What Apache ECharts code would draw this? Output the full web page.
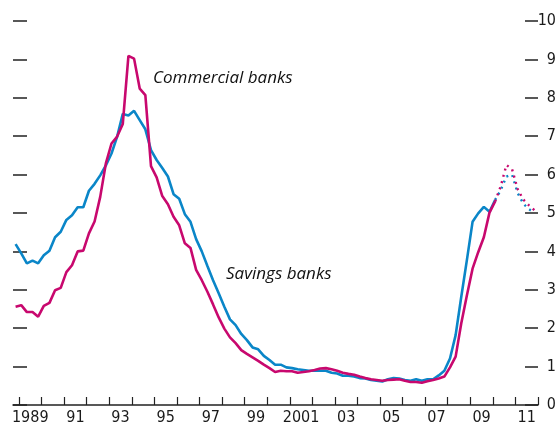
<!DOCTYPE html>
<html><head><meta charset="utf-8">
<script src="https://cdn.jsdelivr.net/npm/echarts@6/dist/echarts.min.js"></script>
<style>html,body{margin:0;padding:0;background:#fff}#c{width:559px;height:428px}</style>
</head><body><div id="c"></div>
<script>
// Quarterly data, first observation 1988 Q4
const firstYear = 1988, firstQuarter = 4;
const savingsBanks = [
  4.19, 3.95, 3.69, 3.76, 3.69, 3.90, 4.02, 4.37, 4.51, 4.82,
  4.94, 5.15, 5.15, 5.58, 5.76, 5.98, 6.24, 6.55, 6.99, 7.58,
  7.54, 7.66, 7.42, 7.18, 6.64, 6.38, 6.17, 5.95, 5.49, 5.37,
  4.97, 4.77, 4.32, 4.00, 3.62, 3.25, 2.91, 2.56, 2.23, 2.08,
  1.85, 1.69, 1.50, 1.45, 1.28, 1.17, 1.05, 1.05, 0.98, 0.96,
  0.93, 0.91, 0.89, 0.89, 0.89, 0.89, 0.84, 0.82, 0.76, 0.76,
  0.74, 0.70, 0.69, 0.65, 0.63, 0.61, 0.67, 0.70, 0.69, 0.65,
  0.63, 0.67, 0.63, 0.67, 0.67, 0.77, 0.89, 1.21, 1.82, 2.82,
  3.78, 4.77, 4.99, 5.16, 5.03, 5.34
];
const commercialBanks = [
  2.56, 2.60, 2.42, 2.42, 2.30, 2.58, 2.66, 2.99, 3.05, 3.46,
  3.64, 4.00, 4.02, 4.47, 4.78, 5.42, 6.29, 6.81, 6.99, 7.32,
  9.09, 9.02, 8.24, 8.07, 6.22, 5.93, 5.44, 5.23, 4.90, 4.68,
  4.21, 4.09, 3.52, 3.25, 2.95, 2.62, 2.28, 1.99, 1.76, 1.61,
  1.43, 1.33, 1.24, 1.15, 1.05, 0.96, 0.86, 0.89, 0.88, 0.88,
  0.84, 0.86, 0.88, 0.91, 0.95, 0.96, 0.93, 0.89, 0.84, 0.81,
  0.79, 0.74, 0.70, 0.67, 0.65, 0.63, 0.65, 0.66, 0.67, 0.63,
  0.60, 0.60, 0.58, 0.62, 0.65, 0.69, 0.74, 0.98, 1.26, 2.13,
  2.86, 3.55, 3.98, 4.37, 5.01, 5.30
];
// Forecasts (dotted), starting at the last observed quarter (2010 Q1)
const forecastStartIndex = 85;
const savingsForecast = [5.34, 5.60, 5.95, 6.00, 5.52, 5.24, 5.10, 5.00];
const commercialForecast = [5.30, 5.70, 6.25, 6.14, 5.62, 5.35, 5.20, 5.07];

const yTickValues = [0, 1, 2, 3, 4, 5, 6, 7, 8, 9, 10];
const xTickYears = [1989,1990,1991,1992,1993,1994,1995,1996,1997,1998,1999,2000,2001,2002,2003,2004,2005,2006,2007,2008,2009,2010,2011,2012];
const xLabelYears = [1989,1991,1993,1995,1997,1999,2001,2003,2005,2007,2009,2011];
const xLabelText = ['1989','91','93','95','97','99','2001','03','05','07','09','11'];

const seriesNames = ['Commercial banks', 'Savings banks'];
const BLUE = '#0a86c8', MAGENTA = '#c8086e';

function qx(i) { // decimal-year position of quarter index i
  const q0 = firstYear + (firstQuarter - 1) / 4;
  return q0 + i * 0.25 + 0.1;
}
const toPts = (arr, start) => arr.map((v, k) => [qx(start + k), v]);

const tickFont = "'Liberation Sans Narrow', 'DejaVu Sans Condensed', 'Liberation Sans', sans-serif";
const chart = echarts.init(document.getElementById('c'), null, { renderer: 'canvas' });
chart.setOption({
  animation: false,
  backgroundColor: '#fff',
  grid: { left: 13, right: 19, top: 21, bottom: 23, containLabel: false },
  xAxis: {
    type: 'value', min: 1988.735, max: 2012,
    splitLine: { show: false },
    axisLine: { show: true, lineStyle: { color: '#222', width: 1.5 } },
    axisTick: { show: true, inside: true, length: 8, customValues: xTickYears, lineStyle: { color: '#222', width: 1.2 } },
    axisLabel: {
      customValues: xLabelYears.map(y => y + 0.5),
      formatter: v => xLabelText[xLabelYears.indexOf(Math.floor(v))],
      color: '#1a1a1a', fontSize: 16, fontFamily: tickFont, margin: 5
    }
  },
  yAxis: [
    {
      type: 'value', position: 'right', min: 0, max: 10, interval: 1,
      splitLine: { show: false },
      axisLine: { show: false },
      axisTick: { show: true, inside: true, length: 13, lineStyle: { color: '#222', width: 1.5 } },
      axisLabel: { color: '#1a1a1a', fontSize: 16, fontFamily: tickFont, margin: 18, align: 'right',
        formatter: v => yTickValues.includes(v) ? String(v) : '' }
    },
    {
      type: 'value', position: 'left', min: 0, max: 10, interval: 1,
      splitLine: { show: false },
      axisLine: { show: false },
      axisTick: { show: true, inside: true, length: 14, lineStyle: { color: '#222', width: 1.5 } },
      axisLabel: { show: false }
    }
  ],
  series: [
    { name: seriesNames[1], type: 'line', data: toPts(savingsBanks, 0), showSymbol: false,
      lineStyle: { color: BLUE, width: 2.6 }, z: 2 },
    { name: seriesNames[0], type: 'line', data: toPts(commercialBanks, 0), showSymbol: false,
      lineStyle: { color: MAGENTA, width: 2.6 }, z: 3 },
    { name: seriesNames[1] + ' forecast', type: 'line', data: toPts(savingsForecast, forecastStartIndex), showSymbol: false,
      lineStyle: { color: BLUE, width: 2.4, type: [2, 4.5] }, z: 2 },
    { name: seriesNames[0] + ' forecast', type: 'line', data: toPts(commercialForecast, forecastStartIndex), showSymbol: false,
      lineStyle: { color: MAGENTA, width: 2.4, type: [2, 4.5] }, z: 3 }
  ],
  graphic: [
    { type: 'text', x: 153, y: 78, style: { text: seriesNames[0], fill: '#111', font: "italic 17px 'Open Sans', sans-serif", textAlign: 'left', textVerticalAlign: 'middle' } },
    { type: 'text', x: 226, y: 274, style: { text: seriesNames[1], fill: '#111', font: "italic 17px 'Open Sans', sans-serif", textAlign: 'left', textVerticalAlign: 'middle' } }
  ]
});
</script>
</body></html>
